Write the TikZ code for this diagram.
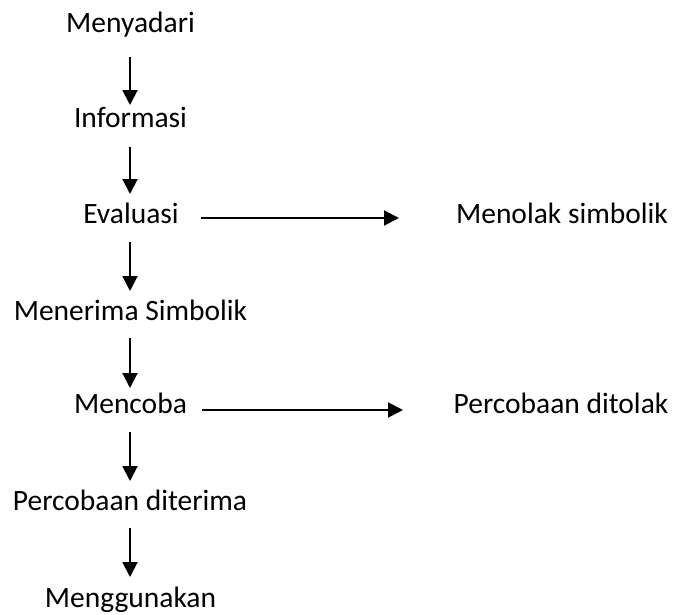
\documentclass[tikz,border=0pt]{standalone}
\usepackage{fontspec}
\setmainfont{Carlito}
\usetikzlibrary{arrows.meta,calc}
\begin{document}
\begin{tikzpicture}[x=1pt,y=-1pt,
  lbl/.style={anchor=base,inner sep=0pt,font=\fontsize{29.5}{32}\selectfont},
  arr/.style={line width=2pt,-{Triangle[length=15pt,width=15pt]}}]
\useasboundingbox (0,0) rectangle (680,614);
\node[lbl] (n1) at (130.5,32) {Menyadari};
\node[lbl] (n2) at (130.5,127) {Informasi};
\node[lbl] (n3) at (131,223) {Evaluasi};
\node[lbl] (n4) at (130.5,320) {Menerima Simbolik};
\node[lbl] (n5) at (130.5,413) {Mencoba};
\node[lbl] (n6) at (130,510) {Percobaan diterima};
\node[lbl] (n7) at (130.5,607) {Menggunakan};
\node[lbl] (r1) at (562,223) {Menolak simbolik};
\node[lbl] (r2) at (561,413) {Percobaan ditolak};
\draw[arr] ($(n1.base)+(-0.5,25)$) -- ($(n2.base)+(-0.5,-22)$);
\draw[arr] ($(n2.base)+(-0.5,20)$) -- ($(n3.base)+(-1,-29)$);
\draw[arr] ($(n3.base)+(-1,19)$) -- ($(n4.base)+(-0.5,-29)$);
\draw[arr] ($(n4.base)+(-0.5,18)$) -- ($(n5.base)+(-0.5,-25)$);
\draw[arr] ($(n5.base)+(-0.5,19)$) -- ($(n6.base)+(0,-29)$);
\draw[arr] ($(n6.base)+(0,18)$) -- ($(n7.base)+(-0.5,-30)$);
\draw[arr] ($(n3.base)+(70,-5)$) -- ($(r1.base)+(-163,-5)$);
\draw[arr] ($(n5.base)+(71,-3)$) -- ($(r2.base)+(-158,-3)$);
\end{tikzpicture}
\end{document}
